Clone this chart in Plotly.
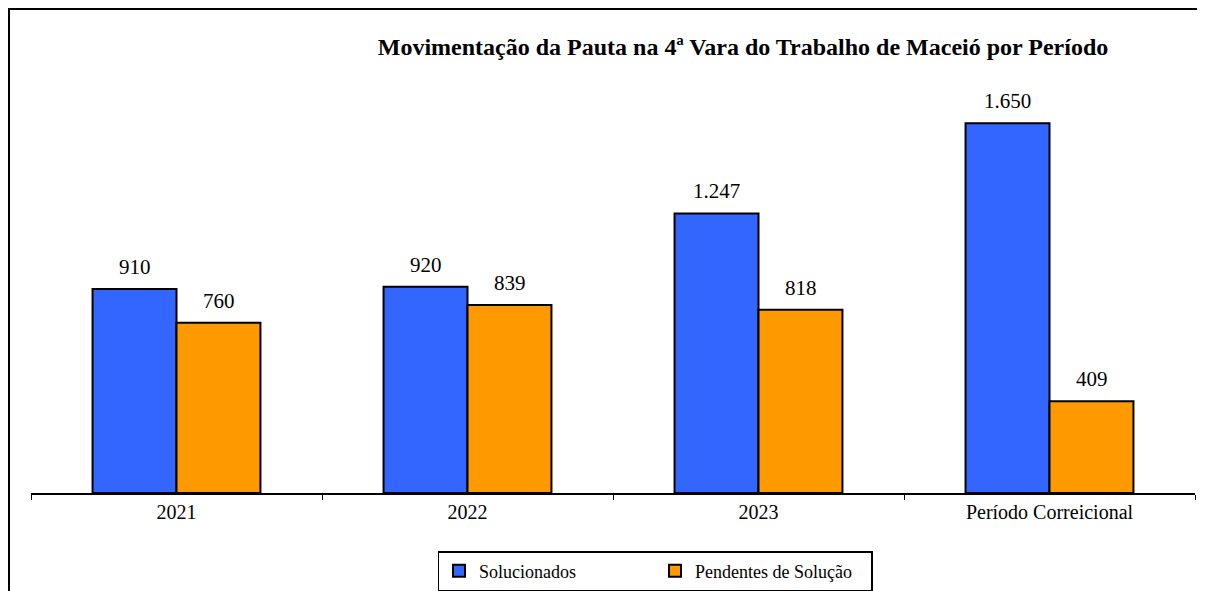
import plotly.graph_objects as go

categories = ["2021", "2022", "2023", "Período Correicional"]
solucionados = [910, 920, 1247, 1650]
pendentes = [760, 839, 818, 409]
series_names = ["Solucionados", "Pendentes de Solução"]
title_text = "Movimentação da Pauta na 4ª Vara do Trabalho de Maceió por Período"

BLUE = "#3366FF"
ORANGE = "#FF9900"
FONT = "Liberation Serif"

OFF = 8  # page body margin offset
W, H = 1205 - OFF, 591 - OFF
# plot area in page pixels: x 31..1195, y 70..493
PL, PR, PT, PB = 31, 1195, 70, 493
ML, MR, MT, MB = PL - OFF, (W + OFF) - PR, PT - OFF, (H + OFF) - PB
PW, PH = W - ML - MR, H - MT - MB


def px_x(px):
    return (px - PL) / PW


def px_y(py):
    return (PB - py) / PH


def fmt(v):
    return f"{v:,}".replace(",", ".")


fig = go.Figure()
for name, vals, col in [(series_names[0], solucionados, BLUE), (series_names[1], pendentes, ORANGE)]:
    fig.add_trace(go.Bar(
        x=categories, y=vals, name=name,
        marker=dict(color=col, line=dict(color="black", width=2)),
        hoverinfo="skip",
    ))

annotations = []
for vals, shift in [(solucionados, -42), (pendentes, 42)]:
    for i, v in enumerate(vals):
        annotations.append(dict(
            x=i, y=v, xref="x", yref="y", text=fmt(v), showarrow=False,
            xshift=shift, yshift=8, yanchor="bottom",
            font=dict(family=FONT, size=21, color="black"),
        ))
fig.update_layout(annotations=annotations)

fig.update_layout(
    width=W, height=H,
    margin=dict(l=ML, r=MR, t=MT, b=MB, pad=0, autoexpand=False),
    paper_bgcolor="white", plot_bgcolor="white",
    barmode="group", bargap=0.423, bargroupgap=0,
    title=dict(text=f"<b>{title_text}</b>", x=(743 - OFF) / W, xanchor="center",
               y=1 - (47 - OFF) / H, yanchor="middle",
               font=dict(family=FONT, size=24, color="black")),
    showlegend=True,
    legend=dict(orientation="h", x=px_x(655), xanchor="center",
                y=px_y(551), yanchor="top",
                bordercolor="black", borderwidth=1.5,
                font=dict(family=FONT, size=18, color="black"),
                entrywidth=171, traceorder="normal"),
    xaxis=dict(type="category", range=[-0.5, 3.5], showline=True, linecolor="black", linewidth=2,
               ticks="outside", tickson="boundaries", ticklen=5, tickcolor="black", tickwidth=1,
               tickfont=dict(family=FONT, size=20, color="black"), tickangle=0,
               automargin=False, showgrid=False, zeroline=False),
    yaxis=dict(visible=False, range=[0, 1887], showgrid=False, zeroline=False, automargin=False),
    shapes=[dict(type="rect", xref="paper", yref="paper",
                 x0=px_x(9), x1=px_x(1220), y0=px_y(9), y1=px_y(610),
                 line=dict(color="black", width=2), fillcolor="rgba(0,0,0,0)", layer="below")],
)

fig.write_html("out.html")
